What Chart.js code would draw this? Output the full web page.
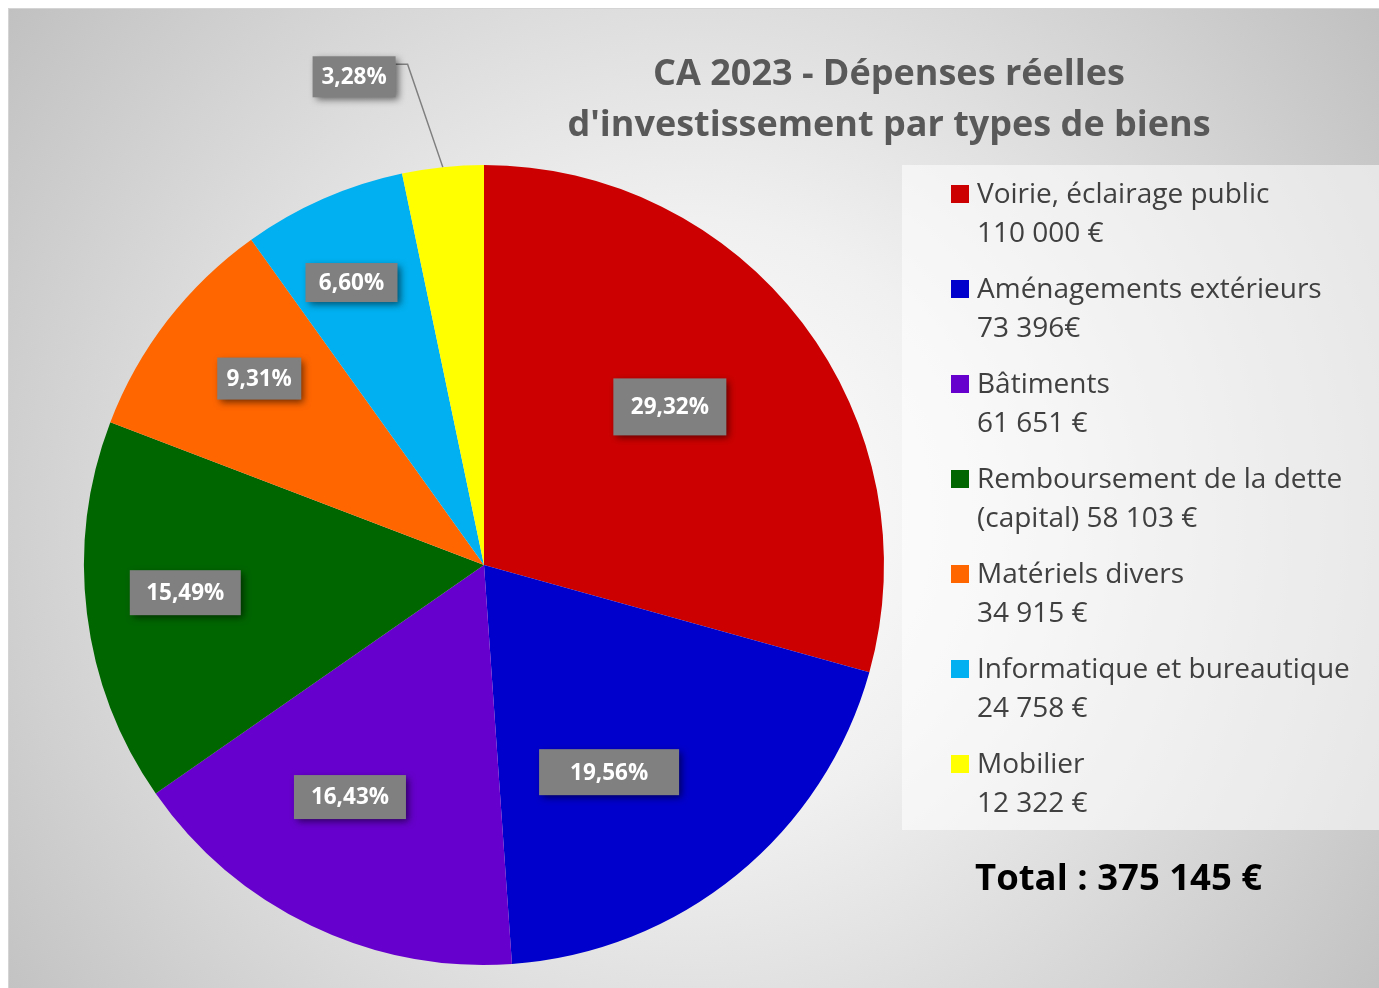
<!DOCTYPE html>
<html>
<head>
<meta charset="utf-8">
<script src="https://cdn.jsdelivr.net/npm/chart.js@4.4.1/dist/chart.umd.min.js"></script>
<style>
html,body{margin:0;padding:0;background:#fff;}
#wrap{position:absolute;left:0;top:0;width:1379px;height:988px;}
</style>
</head>
<body>
<div id="wrap"><canvas id="pie" width="1379" height="988"></canvas></div>
<script>
// data
const categories = ['Voirie, éclairage public', 'Aménagements extérieurs', 'Bâtiments',
  'Remboursement de la dette (capital)', 'Matériels divers', 'Informatique et bureautique', 'Mobilier']
const amounts = [110000, 73396, 61651, 58103, 34915, 24758, 12322]
const legendLines = [
  ['Voirie, éclairage public', '110 000 €'],
  ['Aménagements extérieurs', '73 396€'],
  ['Bâtiments', '61 651 €'],
  ['Remboursement de la dette', '(capital) 58 103 €'],
  ['Matériels divers', '34 915 €'],
  ['Informatique et bureautique', '24 758 €'],
  ['Mobilier', '12 322 €']
]
const colors = ['#cc0000', '#0000cc', '#6600cc', '#006600', '#ff6600', '#00b0f0', '#ffff00']
const titleLines = ['CA 2023 - Dépenses réelles', "d'investissement par types de biens"]
const totalText = 'Total : 375 145 €'

// where each % label sits: [share of the slice angle, share of radius, box w, box h, leader line]
const labelSpots = [
  [0.47, 0.61, 113, 57, false],
  [0.615, 0.605, 140, 46, false],
  [0.575, 0.67, 112, 44, false],
  [0.53, 0.75, 111, 45, false],
  [0.56, 0.73, 84, 42, false],
  [0.44, 0.78, 92, 39, false],
  [-0.26, 1.263, 83, 41, true]
]

const total = amounts.reduce((a, b) => a + b, 0)
const pct = v => (v / total * 100).toFixed(2).replace('.', ',') + '%'

const bgPlugin = {
  id: 'bg',
  beforeDraw(chart) {
    const c = chart.ctx
    c.save()
    c.fillStyle = '#fff'
    c.fillRect(0, 0, chart.width, chart.height)
    const g = c.createRadialGradient(690, 520, 0, 690, 520, 860)
    g.addColorStop(0, '#ffffff')
    g.addColorStop(0.35, '#f0f0f0')
    g.addColorStop(1, '#c0c0c0')
    c.fillStyle = g
    c.fillRect(8, 8, 1371, 980)
    c.strokeStyle = '#d4d4d4'
    c.lineWidth = 1
    c.strokeRect(8.5, 8.5, 1371, 980)

    // legend panel
    c.fillStyle = 'rgba(255,255,255,0.55)'
    c.fillRect(902, 165, 477, 665)

    // title
    c.fillStyle = '#595959'
    c.font = 'bold 36px "Open Sans"'
    c.textAlign = 'center'
    c.textBaseline = 'alphabetic'
    c.fillText(titleLines[0], 889, 85)
    c.fillText(titleLines[1], 889, 136)

    // legend
    c.textAlign = 'left'
    c.font = '28px "Open Sans"'
    legendLines.forEach((lines, i) => {
      const y0 = 203 + i * 95
      c.fillStyle = colors[i]
      c.fillRect(951, y0 - 18, 18, 18)
      c.fillStyle = '#404040'
      c.fillText(lines[0], 977, y0)
      c.fillText(lines[1], 977, y0 + 39)
    })

    // total
    c.fillStyle = '#000'
    c.font = 'bold 36.5px "Open Sans"'
    c.fillText(totalText, 975, 890)
    c.restore()
  }
}

const labelPlugin = {
  id: 'pctLabels',
  afterDatasetsDraw(chart) {
    const c = chart.ctx
    const arcs = chart.getDatasetMeta(0).data
    arcs.forEach((arc, i) => {
      const p = arc.getProps(['x', 'y', 'startAngle', 'endAngle', 'outerRadius'], true)
      const s = labelSpots[i]
      const a = p.startAngle + s[0] * (p.endAngle - p.startAngle)
      const r = s[1] * p.outerRadius
      const cx = p.x + r * Math.cos(a)
      const cy = p.y + r * Math.sin(a)
      const w = s[2], h = s[3]
      c.save()
      if (s[4]) {
        const mid = (p.startAngle + p.endAngle) / 2
        const ex = p.x + p.outerRadius * Math.cos(mid)
        const ey = p.y + p.outerRadius * Math.sin(mid)
        c.strokeStyle = '#7f7f7f'
        c.lineWidth = 1.5
        c.beginPath()
        c.moveTo(cx + w / 2, cy - h / 2 + 8)
        c.lineTo(cx + w / 2 + 12, cy - h / 2 + 8)
        c.lineTo(ex, ey)
        c.stroke()
      }
      c.shadowColor = 'rgba(0,0,0,0.55)'
      c.shadowBlur = 7
      c.shadowOffsetX = 3
      c.shadowOffsetY = 3
      c.fillStyle = '#808080'
      c.fillRect(cx - w / 2, cy - h / 2, w, h)
      c.shadowColor = 'transparent'
      c.fillStyle = '#fff'
      c.font = 'bold 22.5px "Open Sans"'
      c.textAlign = 'center'
      c.textBaseline = 'middle'
      c.fillText(pct(amounts[i]), cx, cy + 1)
      c.restore()
    })
  }
}

new Chart(document.getElementById('pie'), {
  type: 'pie',
  data: {
    labels: categories,
    datasets: [{
      data: amounts,
      backgroundColor: colors,
      borderWidth: 0
    }]
  },
  options: {
    responsive: false,
    animation: false,
    events: [],
    layout: { padding: { left: 84, right: 495, top: 165, bottom: 23 } },
    plugins: {
      legend: { display: false },
      title: { display: false },
      tooltip: { enabled: false }
    }
  },
  plugins: [bgPlugin, labelPlugin]
})
</script>
</body>
</html>
